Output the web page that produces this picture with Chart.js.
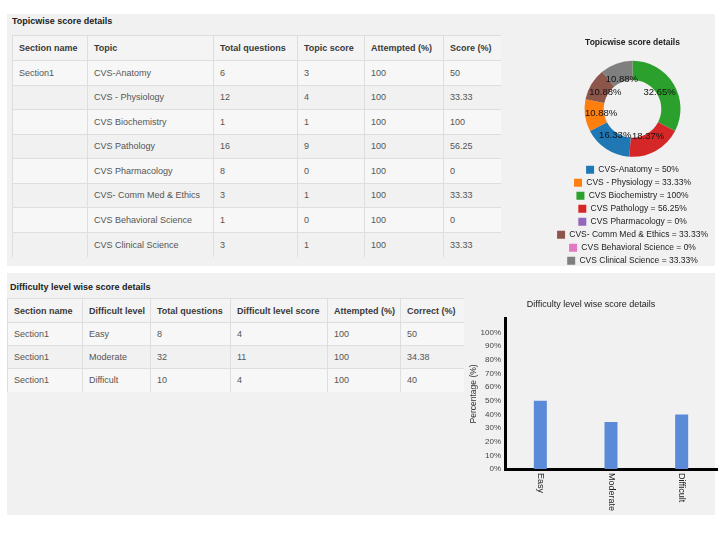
<!DOCTYPE html>
<html>
<head>
<meta charset="utf-8">
<script src="https://cdn.jsdelivr.net/npm/chart.js@4"></script>
<style>
  body { margin: 0; background: #fff; font-family: "Liberation Sans", Arial, sans-serif; }
  .panel { position: absolute; background: #f1f1f1; }
  .heading { position: absolute; font-weight: bold; font-size: 9px; color: #222; }
  table { position: absolute; border-collapse: collapse; font-size: 9px; color: #555; table-layout: fixed; }
  th { font-weight: bold; color: #3a3a3a; text-align: left; padding: 0 0 0 6px; border: 1px solid #dedede; border-width: 1px 0 1px 1px; background: #f4f4f4; }
  td { padding: 0 0 0 6px; border-top: 1px solid #dedede; border-left: 1px solid #dedede; white-space: nowrap; }
  tr.odd td { background: #f7f7f7; }
  .box { position: absolute; }
</style>
</head>
<body>
<div class="panel" style="left:7px;top:14px;width:708px;height:252px;"></div>
<div class="panel" style="left:7px;top:273px;width:708px;height:242px;"></div>

<div class="heading" style="left:12px;top:16px;">Topicwise score details</div>
<table id="topicTable" style="left:12px;top:35px;width:488px;"></table>

<div class="heading" style="left:10px;top:282px;">Difficulty level wise score details</div>
<table id="levelTable" style="left:7px;top:298px;width:456px;"></table>

<div class="box" style="left:545px;top:30px;width:175px;height:245px;"><canvas id="topicChart"></canvas></div>
<div class="box" style="left:465px;top:290px;width:255px;height:225px;"><canvas id="levelChart"></canvas></div>

<script>
// Topic data
const topics = [
  "CVS-Anatomy",
  "CVS - Physiology",
  "CVS Biochemistry",
  "CVS Pathology",
  "CVS Pharmacology",
  "CVS- Comm Med & Ethics",
  "CVS Behavioral Science",
  "CVS Clinical Science",
];
const topicQuestions = [6, 12, 1, 16, 8, 3, 1, 3];
const topicScores = [3, 4, 1, 9, 0, 1, 0, 1];
const topicAttempted = [100, 100, 100, 100, 100, 100, 100, 100];
const topicScorePct = [50, 33.33, 100, 56.25, 0, 33.33, 0, 33.33];
const topicColors = ["#1f77b4", "#ff7f0e", "#2ca02c", "#d62728", "#9467bd", "#8c564b", "#e377c2", "#7f7f7f"];

// Difficulty data
const levels = ["Easy", "Moderate", "Difficult"];
const levelQuestions = [8, 32, 10];
const levelScores = [4, 11, 4];
const levelAttempted = [100, 100, 100];
const levelCorrectPct = [50, 34.38, 40];
const yTickValues = [0, 10, 20, 30, 40, 50, 60, 70, 80, 90, 100];

// Tables
function buildTable(id, headers, widths, rows, headH, rowH) {
  const t = document.getElementById(id);
  let html = "<colgroup>" + widths.map(w => '<col style="width:' + w + 'px">').join("") + "</colgroup>";
  html += '<tr style="height:' + headH + 'px">' + headers.map(h => "<th>" + h + "</th>").join("") + "</tr>";
  rows.forEach((r, i) => {
    html += '<tr class="' + (i % 2 === 0 ? "odd" : "even") + '" style="height:' + rowH + 'px">' +
      r.map(c => "<td>" + String(c).replace(/&/g, "&amp;") + "</td>").join("") + "</tr>";
  });
  t.innerHTML = html;
}

buildTable("topicTable",
  ["Section name", "Topic", "Total questions", "Topic score", "Attempted (%)", "Score (%)"],
  [75, 126, 84, 67, 79, 57],
  topics.map((t, i) => [i === 0 ? "Section1" : "", t, topicQuestions[i], topicScores[i], topicAttempted[i], topicScorePct[i]]),
  25, 24.5);

buildTable("levelTable",
  ["Section name", "Difficult level", "Total questions", "Difficult level score", "Attempted (%)", "Correct (%)"],
  [75, 68, 80, 97, 73, 63],
  levels.map((l, i) => ["Section1", l, levelQuestions[i], levelScores[i], levelAttempted[i], levelCorrectPct[i]]),
  24, 23);

// Doughnut: slices drawn largest first, legend kept in topic order
const order = topics.map((_, i) => i).sort((a, b) => topicScorePct[b] - topicScorePct[a] || a - b);
const total = topicScorePct.reduce((a, b) => a + b, 0);

const sliceLabels = {
  id: "sliceLabels",
  afterDatasetsDraw(chart) {
    const ctx = chart.ctx;
    const meta = chart.getDatasetMeta(0);
    ctx.save();
    ctx.font = "9.5px 'Liberation Sans', Arial";
    ctx.fillStyle = "#111";
    ctx.textAlign = "center";
    ctx.textBaseline = "middle";
    meta.data.forEach((arc, k) => {
      const v = chart.data.datasets[0].data[k];
      if (!v) return;
      const p = arc.getProps(["x", "y", "startAngle", "endAngle", "innerRadius", "outerRadius"]);
      const mid = (p.startAngle + p.endAngle) / 2;
      const r = p.innerRadius + (p.outerRadius - p.innerRadius) * 0.15;
      ctx.fillText((v / total * 100).toFixed(2) + "%", p.x + Math.cos(mid) * r, p.y + Math.sin(mid) * r);
    });
    ctx.restore();
  },
};

new Chart(document.getElementById("topicChart").getContext("2d"), {
  type: "doughnut",
  data: {
    labels: order.map(i => topics[i]),
    datasets: [{
      data: order.map(i => topicScorePct[i]),
      backgroundColor: order.map(i => topicColors[i]),
      borderWidth: 0,
      radius: 48,
      cutout: "60%",
    }],
  },
  options: {
    responsive: true,
    maintainAspectRatio: false,
    animation: false,
    plugins: {
      tooltip: { enabled: false },
      title: {
        display: true,
        text: "Topicwise score details",
        color: "#222",
        font: { size: 8.5, weight: "bold", family: "'Liberation Sans', Arial" },
        padding: { top: 7.6, bottom: 8.9 },
      },
      legend: {
        position: "bottom",
        onClick: null,
        labels: {
          boxWidth: 8,
          boxHeight: 8,
          padding: 4.5,
          color: "#222",
          font: { size: 8.5, family: "'Liberation Sans', Arial" },
          generateLabels: () => topics.map((t, i) => ({
            text: t + " = " + topicScorePct[i] + "%",
            fillStyle: topicColors[i],
            strokeStyle: topicColors[i],
            lineWidth: 0,
            hidden: false,
            index: order.indexOf(i),
            fontColor: "#222",
          })),
        },
      },
    },
  },
  plugins: [sliceLabels],
});

// Bar chart: category labels turned clockwise below the axis
const downLabels = {
  id: "downLabels",
  afterDraw(chart) {
    const ctx = chart.ctx;
    const xs = chart.scales.x;
    ctx.save();
    ctx.font = "9px 'Liberation Sans', Arial";
    ctx.fillStyle = "#222";
    ctx.textAlign = "left";
    ctx.textBaseline = "middle";
    levels.forEach((l, i) => {
      ctx.save();
      ctx.translate(xs.getPixelForTick(i), chart.chartArea.bottom + 4);
      ctx.rotate(Math.PI / 2);
      ctx.fillText(l, 0, 0);
      ctx.restore();
    });
    ctx.restore();
  },
};

new Chart(document.getElementById("levelChart").getContext("2d"), {
  type: "bar",
  data: {
    labels: levels,
    datasets: [{
      data: levelCorrectPct,
      backgroundColor: "#5b8bd8",
      barPercentage: 0.184,
      categoryPercentage: 1,
    }],
  },
  options: {
    responsive: true,
    maintainAspectRatio: false,
    animation: false,
    layout: { padding: { right: 3 } },
    plugins: {
      legend: { display: false },
      tooltip: { enabled: false },
      title: {
        display: true,
        text: "Difficulty level wise score details",
        color: "#222",
        font: { size: 9, weight: "normal", family: "'Liberation Sans', Arial" },
        padding: { top: 9, bottom: 9 },
      },
    },
    scales: {
      x: {
        grid: { display: false, drawTicks: false },
        border: { display: true, color: "#000", width: 3 },
        ticks: { display: false },
        afterFit: s => { s.height = 46; },
      },
      y: {
        min: 0,
        max: 110,
        grid: { display: false, drawTicks: false },
        border: { display: true, color: "#000", width: 3 },
        afterBuildTicks: s => { s.ticks = yTickValues.map(v => ({ value: v })); },
        afterFit: s => { s.width = 40; },
        ticks: {
          padding: 4,
          color: "#444",
          font: { size: 8, family: "'Liberation Sans', Arial" },
          callback: v => v + "%",
        },
        title: {
          display: true,
          text: "Percentage (%)",
          color: "#333",
          font: { size: 8.5, family: "'Liberation Sans', Arial" },
          padding: { top: 4, bottom: 0 },
        },
      },
    },
  },
  plugins: [downLabels],
});
</script>
</body>
</html>
